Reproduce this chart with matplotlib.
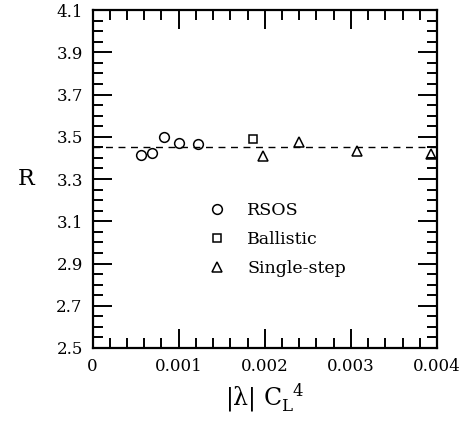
import numpy as np
import matplotlib
matplotlib.use("Agg")
import matplotlib.pyplot as plt
from matplotlib.ticker import MultipleLocator, FixedLocator

plt.rcParams['font.family'] = 'DejaVu Serif'
plt.rcParams['mathtext.fontset'] = 'dejavuserif'

# data
rsos_x = [0.00056, 0.000695, 0.000834, 0.001005, 0.00123]
rsos_y = [3.415, 3.423, 3.499, 3.470, 3.467]
ball_x = [0.00186]
ball_y = [3.489]
ss_x = [0.00198, 0.00240, 0.00307, 0.00393]
ss_y = [3.410, 3.476, 3.432, 3.416]
r_fit = 3.45

xticks = [0, 0.001, 0.002, 0.003, 0.004]
xlabels = ['0', '0.001', '0.002', '0.003', '0.004']
yticks = [2.5, 2.7, 2.9, 3.1, 3.3, 3.5, 3.7, 3.9, 4.1]
ylabels = ['2.5', '2.7', '2.9', '3.1', '3.3', '3.5', '3.7', '3.9', '4.1']

fig = plt.figure(figsize=(4.71, 4.29), dpi=100)
ax = fig.add_axes([92.5/471, 1-348/429, (437-92.5)/471, (348-10)/429])

ax.axhline(r_fit, color='black', lw=1.0, ls=(0, (5, 4)))
ax.plot(rsos_x, rsos_y, 'o', ms=7, mfc='none', mec='black', mew=1.1, label='RSOS', clip_on=False)
ax.plot(ball_x, ball_y, 's', ms=6, mfc='none', mec='black', mew=1.1, label='Ballistic', clip_on=False)
ax.plot(ss_x, ss_y, '^', ms=7.5, mfc='none', mec='black', mew=1.1, label='Single-step', clip_on=False)

ax.set_xlim(0, 0.004)
ax.set_ylim(2.5, 4.1)
ax.xaxis.set_major_locator(FixedLocator(xticks))
ax.xaxis.set_minor_locator(MultipleLocator(0.0002))
ax.yaxis.set_major_locator(FixedLocator(yticks))
ax.yaxis.set_minor_locator(MultipleLocator(0.05))
ax.set_xticklabels(xlabels)
ax.set_yticklabels(ylabels)

ax.tick_params(which='both', direction='in', top=True, right=True, width=1.4, labelsize=12)
ax.tick_params(which='major', length=14, pad=7)
ax.tick_params(which='minor', length=7)
for s in ax.spines.values():
    s.set_linewidth(1.6)

ax.set_ylabel('R', fontsize=16, rotation=0, labelpad=22, va='center')
ax.set_xlabel(r'$\mathrm{|λ|\ C}_{\mathrm{L}}^{\ \ 4}$', fontsize=17, labelpad=5)

ax.legend(loc='upper left', bbox_to_anchor=(0.315, 0.452), frameon=False, fontsize=12.5,
          handletextpad=1.25, labelspacing=0.7, handlelength=1.0, borderaxespad=0)

fig.savefig('out.png', dpi=100)
